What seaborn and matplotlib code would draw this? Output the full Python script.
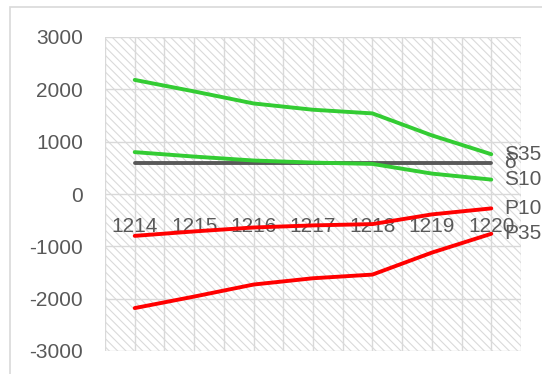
import numpy as np
import pandas as pd
import matplotlib
matplotlib.use("Agg")
import matplotlib.pyplot as plt
import seaborn as sns
from matplotlib.patches import Rectangle

# data
years = ["1214", "1215", "1216", "1217", "1218", "1219", "1220"]
s35 = [2180, 1960, 1730, 1610, 1540, 1120, 760]
delta = [600, 600, 600, 600, 600, 600, 600]
s10 = [800, 715, 640, 600, 575, 390, 275]
p10 = [-800, -715, -640, -600, -575, -390, -275]
p35 = [-2180, -1960, -1730, -1610, -1540, -1120, -760]

series = {"δ": delta, "S35": s35, "S10": s10, "P10": p10, "P35": p35}
colors = {"δ": "#595959", "S35": "#33CC33", "S10": "#33CC33",
          "P10": "#FF0000", "P35": "#FF0000"}

rows = []
for name, vals in series.items():
    for i, v in enumerate(vals):
        rows.append({"pos": i, "value": v, "series": name})
df = pd.DataFrame(rows)

sns.set_style("white")
plt.rcParams["font.family"] = ["Liberation Sans", "DejaVu Sans"]
plt.rcParams["axes.unicode_minus"] = False
plt.rcParams["hatch.linewidth"] = 0.8

txt = "#595959"
grid = "#D9D9D9"

fig = plt.figure(figsize=(5.42, 3.74), dpi=100)
ax = fig.add_axes([105 / 542, 1 - 351 / 374, 416 / 542, 314 / 374])

# hatched plot area
ax.add_patch(Rectangle((0, 0), 1, 1, transform=ax.transAxes, facecolor="white",
                       edgecolor="#DADADA", linewidth=0, hatch="\\\\\\\\", zorder=0))

sns.lineplot(data=df, x="pos", y="value", hue="series", palette=colors,
             linewidth=2.8, legend=False, ax=ax, zorder=3)

ax.set_xlim(-0.5, 6.5)
ax.set_ylim(-3000, 3000)
ax.set_yticks(np.arange(-3000, 3001, 1000))
ax.set_xticks(range(len(years)))
ax.set_xticklabels(years)
ax.set_xticks(np.arange(-0.5, 7, 1), minor=True)
ax.set_xlabel("")
ax.set_ylabel("")

ax.grid(True, which="both", axis="x", color=grid, linewidth=1.0, zorder=1)
ax.grid(True, which="major", axis="y", color=grid, linewidth=1.0, zorder=1)
ax.set_axisbelow(True)

for s in ax.spines.values():
    s.set_visible(False)
ax.spines["bottom"].set_position(("data", 0))

ax.tick_params(axis="x", which="both", length=0, pad=16.5, labelsize=15, labelcolor=txt)
ax.tick_params(axis="y", length=0, pad=16, labelsize=15, labelcolor=txt)

# data labels at the last point
for name, vals in series.items():
    ax.annotate(name, (len(years) - 1, vals[-1]), xytext=(9.5, 0),
                textcoords="offset points", va="center", ha="left",
                fontsize=15, color=txt, annotation_clip=False, zorder=4)

# chart border
fig.add_artist(Rectangle((10 / 542, -0.2), 1.2, 1.2 - 7 / 374, transform=fig.transFigure,
                         facecolor="none", edgecolor=grid, linewidth=1.2, clip_on=False))

fig.savefig("out.png", dpi=100)
